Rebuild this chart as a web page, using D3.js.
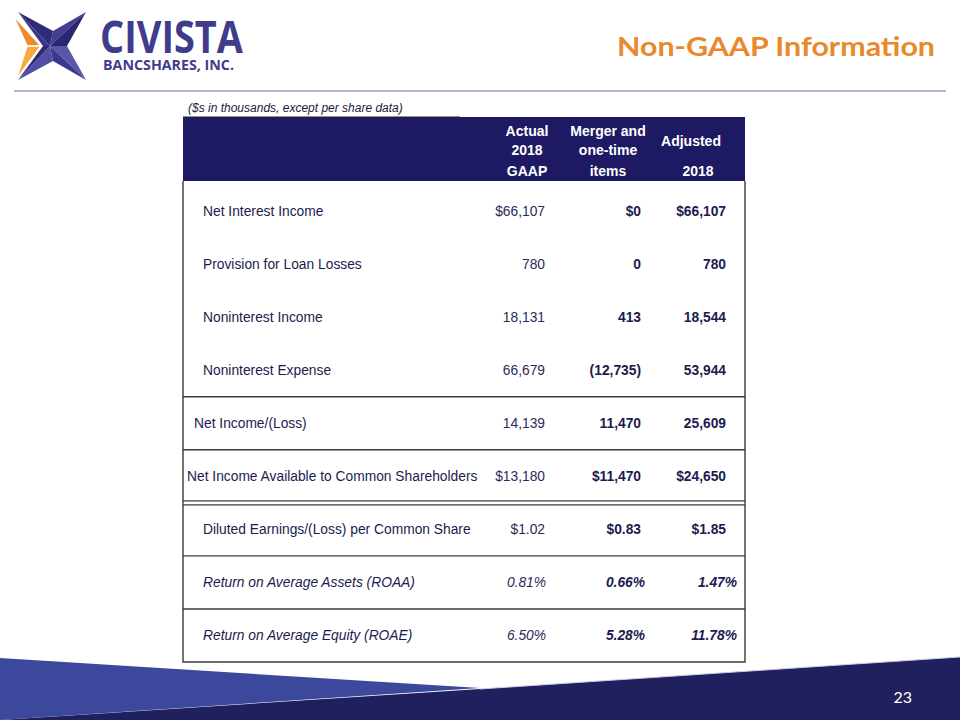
<!DOCTYPE html>
<html><head><meta charset="utf-8">
<script src="https://cdn.jsdelivr.net/npm/d3@7"></script>
<style>body{margin:0;background:#fff}svg{display:block}</style>
</head><body>
<script>
// ---- data ----
const rowLabels = [
  "Net Interest Income",
  "Provision for Loan Losses",
  "Noninterest Income",
  "Noninterest Expense",
  "Net Income/(Loss)",
  "Net Income Available to Common Shareholders",
  "Diluted Earnings/(Loss) per Common Share",
  "Return on Average Assets (ROAA)",
  "Return on Average Equity (ROAE)"
];
const actual2018 = [66107, 780, 18131, 66679, 14139, 13180, 1.02, 0.81, 6.50];
const mergerItems = [0, 0, 413, -12735, 11470, 11470, 0.83, 0.66, 5.28];
const adjusted2018 = [66107, 780, 18544, 53944, 25609, 24650, 1.85, 1.47, 11.78];
const rowFormats = ["usd", "int", "int", "int", "int", "usd", "eps", "pct", "pct"];
const columnKeys = ["actual", "merger", "adjusted"];
const headerTop = [["Actual", "2018"], ["Merger and", "one-time"], ["Adjusted"]];
const headerBottom = ["GAAP", "items", "2018"];
const caption = "($s in thousands, except per share data)";
const slideTitle = "Non-GAAP Information";
const pageNumber = "23";

// ---- setup ----
const W = 960, H = 720;
const svg = d3.select("body").append("svg").attr("width", W).attr("height", H);
const navy = "#1d1a63", textCol = "#1c1b4f";

// logo
const logo = svg.append("g");
const cx = 50, cy = 46;
const star = {tl:[18,12], tn:[53,31], tr:[86,12], rn:[67,46], br:[86,80], bn:[53,61], bl:[18,80], ln:[43,46]};
const facets = [
  [star.tl, star.tn, "#2f2b78"], [star.tn, star.tr, "#433e92"],
  [star.tr, star.rn, "#2a2670"], [star.rn, star.br, "#5a55aa"],
  [star.br, star.bn, "#3c378a"], [star.bn, star.bl, "#524ea4"],
  [star.bl, star.ln, "#2d2975"], [star.ln, star.tl, "#3a3588"]
];
facets.forEach(f => {
  logo.append("path").attr("d", d3.line()([[cx, cy], f[0], f[1]]) + "Z").attr("fill", f[2]);
});
logo.append("path").attr("d", d3.line()([[13,15],[41,46],[27,46]]) + "Z")
  .attr("fill", "#ec8a2c").attr("stroke", "#fff").attr("stroke-width", 1.5);
logo.append("path").attr("d", d3.line()([[27,46],[41,46],[16,80]]) + "Z")
  .attr("fill", "#f5ab42").attr("stroke", "#fff").attr("stroke-width", 1.5);
logo.append("text").attr("x", 100).attr("y", 53).text("CIVISTA")
  .attr("font-family", "Open Sans").attr("font-weight", 700).attr("font-size", 45)
  .attr("fill", "#403c8c").attr("textLength", 143).attr("lengthAdjust", "spacingAndGlyphs");
logo.append("text").attr("x", 103).attr("y", 70).text("BANCSHARES, INC.")
  .attr("font-family", "Open Sans").attr("font-weight", 700).attr("font-size", 13.5)
  .attr("fill", "#403c8c").attr("textLength", 131).attr("lengthAdjust", "spacingAndGlyphs");

// title
svg.append("text").attr("x", 935).attr("y", 56).attr("text-anchor", "end").text(slideTitle)
  .attr("font-family", "Lato").attr("font-weight", 700).attr("font-size", 27)
  .attr("fill", "#e8892b").attr("textLength", 318).attr("lengthAdjust", "spacingAndGlyphs");
svg.append("line").attr("x1", 14).attr("x2", 946).attr("y1", 91).attr("y2", 91)
  .attr("stroke", "#9a9bc6").attr("stroke-width", 1.5);

// table geometry
const tableL = 183, tableR = 745, headT = 117, headB = 181, tableB = 662;
const y = d3.scaleBand().domain(d3.range(rowLabels.length)).range([184.5, tableB]);
const xRight = d3.scaleOrdinal().domain(columnKeys).range([545, 641, 726]);
const xHead = d3.scaleOrdinal().domain(columnKeys).range([527, 608, 691]);
const xHeadBottom = d3.scaleOrdinal().domain(columnKeys).range([527, 608, 698]);
const pctShift = d3.scaleOrdinal().domain(columnKeys).range([1, 4, 11]);
const labelX = d3.scaleOrdinal().domain(d3.range(9)).range([203,203,203,203,194,187,203,203,203]);

svg.append("text").attr("x", 188).attr("y", 112).text(caption)
  .attr("font-family", "Liberation Sans").attr("font-style", "italic").attr("font-size", 12)
  .attr("fill", "#1a1a3a");

// header
svg.append("rect").attr("x", tableL).attr("y", headT).attr("width", tableR - tableL)
  .attr("height", headB - headT).attr("fill", navy);
svg.append("line").attr("x1", tableL).attr("x2", 460).attr("y1", headT).attr("y2", headT)
  .attr("stroke", "#222", "stroke-width", 1);
const hdr = svg.append("g").attr("font-family", "Liberation Sans").attr("font-weight", 700)
  .attr("font-size", 14).attr("fill", "#fff").attr("text-anchor", "middle");
columnKeys.forEach((k, i) => {
  const lines = headerTop[i];
  const ys = lines.length === 2 ? [136, 155] : [146];
  lines.forEach((t, j) => hdr.append("text").attr("x", xHead(k)).attr("y", ys[j]).text(t));
  hdr.append("text").attr("x", xHeadBottom(k)).attr("y", 176).text(headerBottom[i]);
});

// body borders
const border = svg.append("g").attr("stroke", "#3a3a3a").attr("stroke-width", 1.4).attr("fill", "none");
border.append("path").attr("d", `M${tableL},${headB}V${tableB}H${tableR}V${headB}`);
[4, 5, 7, 8].forEach(i => border.append("line").attr("x1", tableL).attr("x2", tableR)
  .attr("y1", y(i)).attr("y2", y(i)));
[y(6) - 2, y(6) + 2].forEach(v => border.append("line").attr("x1", tableL).attr("x2", tableR)
  .attr("y1", v).attr("y2", v));

// formatting
const fmtInt = d3.format(",");
function fmt(v, type) {
  if (type === "usd") return "$" + fmtInt(v);
  if (type === "int") return v < 0 ? "(" + fmtInt(-v) + ")" : fmtInt(v);
  if (type === "eps") return "$" + d3.format(".2f")(v);
  return d3.format(".2f")(v) + "%";
}

// rows
const body = svg.append("g").attr("font-family", "Liberation Sans").attr("font-size", 13.8).attr("fill", textCol);
const cols = {actual: actual2018, merger: mergerItems, adjusted: adjusted2018};
rowLabels.forEach((lab, i) => {
  const yc = y(i) + y.bandwidth() / 2 + 5;
  const ital = rowFormats[i] === "pct";
  body.append("text").attr("x", labelX(i)).attr("y", yc).text(lab)
    .attr("font-style", ital ? "italic" : "normal");
  columnKeys.forEach(k => {
    body.append("text")
      .attr("x", xRight(k) + (ital ? pctShift(k) : 0))
      .attr("y", yc).attr("text-anchor", "end")
      .attr("font-style", ital ? "italic" : "normal")
      .attr("font-weight", k === "actual" ? 400 : 700)
      .attr("fill", k === "actual" ? "#2a2a5a" : textCol)
      .text(fmt(cols[k][i], rowFormats[i]));
  });
});

// bottom band
svg.append("path").attr("d", d3.line()([[0,658],[480,688],[0,720]]) + "Z").attr("fill", "#3b489c");
svg.append("path").attr("d", d3.line()([[0,720],[480,689],[960,657],[960,720]]) + "Z").attr("fill", "#20205e");
svg.append("path").attr("d", d3.line()([[480,689],[960,657]])).attr("stroke", "#c9cbe6").attr("stroke-width", 1).attr("fill", "none");
svg.append("text").attr("x", 912).attr("y", 703).attr("text-anchor", "end").text(pageNumber)
  .attr("font-family", "Lato").attr("font-size", 16).attr("fill", "#fff");
</script>
</body></html>
